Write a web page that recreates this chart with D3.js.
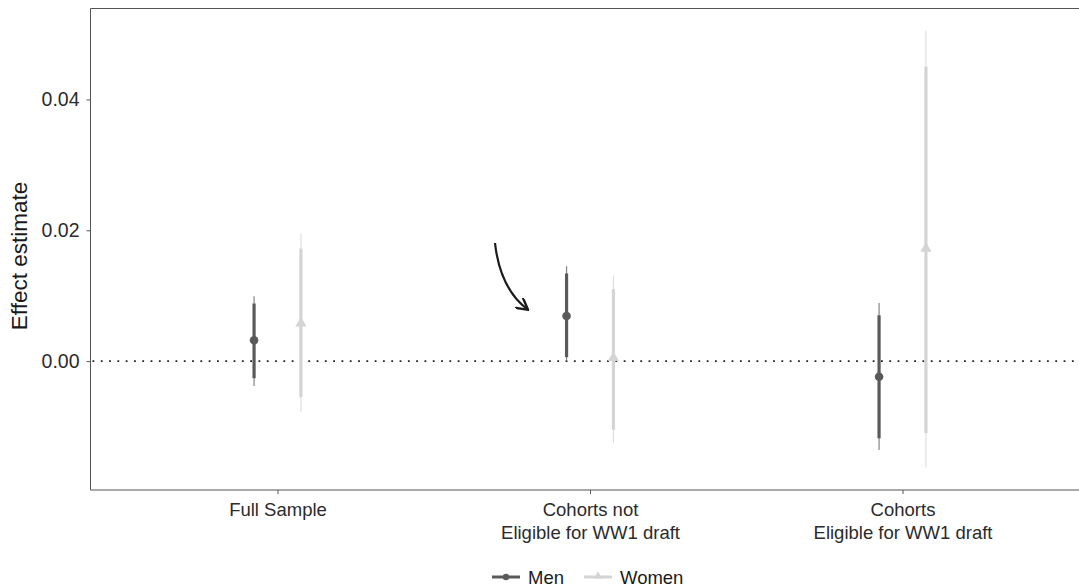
<!DOCTYPE html>
<html>
<head>
<meta charset="utf-8">
<script src="https://cdn.jsdelivr.net/npm/d3@7"></script>
<style>
  body { margin: 0; background: #fff; }
  svg { display: block; font-family: "Liberation Sans", Arial, sans-serif; }
</style>
</head>
<body>
<div id="chart"></div>
<script>
// categories and series
const categories = ["Full Sample", "Cohorts not\nEligible for WW1 draft", "Cohorts\nEligible for WW1 draft"];
const groups = ["Men", "Women"];

// estimates
const menEst    = [0.0032, 0.0069, -0.0024];
const menLo95   = [-0.0038, 0.0002, -0.0136];
const menHi95   = [0.0099, 0.0145, 0.0089];
const menLo90   = [-0.0026, 0.0006, -0.0118];
const menHi90   = [0.0088, 0.0134, 0.0070];

const womenEst  = [0.0058, 0.0005, 0.0172];
const womenLo95 = [-0.0078, -0.0125, -0.0163];
const womenHi95 = [0.0195, 0.0131, 0.0505];
const womenLo90 = [-0.0055, -0.0105, -0.0110];
const womenHi90 = [0.0172, 0.0110, 0.0450];

const yTicks = [0, 0.02, 0.04];

const width = 1079, height = 588;
const margin = { left: 90.5, top: 8.5, bottom: 490 };

const colors = { Men: "#5a5a5a", Women: "#d4d4d4" };

const rows = [];
categories.forEach((c, i) => {
  rows.push({ cat: c, group: "Men", est: menEst[i], lo95: menLo95[i], hi95: menHi95[i], lo90: menLo90[i], hi90: menHi90[i] });
  rows.push({ cat: c, group: "Women", est: womenEst[i], lo95: womenLo95[i], hi95: womenHi95[i], lo90: womenLo90[i], hi90: womenHi90[i] });
});

const svg = d3.select("#chart").append("svg")
  .attr("width", width).attr("height", height);

// discrete x with ggplot-like 0.6 expansion; panel runs off the right edge
const x = d3.scalePoint()
  .domain(categories)
  .range([277.5, 902.5]);
const step = x.step();
const dodge = d3.scalePoint().domain(groups).range([-0.075 * step, 0.075 * step]);

const y = d3.scaleLinear()
  .domain([-0.0197, 0.0539])
  .range([margin.bottom, margin.top]);

// zero reference line
svg.append("line")
  .attr("x1", margin.left + 2).attr("x2", width)
  .attr("y1", y(0)).attr("y2", y(0))
  .attr("stroke", "#222").attr("stroke-width", 1.8)
  .attr("stroke-dasharray", "1.8 6.5");

// error bars
const g = svg.append("g");
const pts = g.selectAll("g.pt").data(rows).enter().append("g")
  .attr("transform", d => `translate(${x(d.cat) + dodge(d.group)},0)`);

pts.append("line")
  .attr("y1", d => y(d.lo95)).attr("y2", d => y(d.hi95))
  .attr("stroke", d => colors[d.group]).attr("stroke-width", 1.2)
  .attr("stroke-opacity", 0.75);

pts.append("line")
  .attr("y1", d => y(d.lo90)).attr("y2", d => y(d.hi90))
  .attr("stroke", d => colors[d.group]).attr("stroke-width", 3.2);

pts.filter(d => d.group === "Men").append("circle")
  .attr("cy", d => y(d.est)).attr("r", 4.3)
  .attr("fill", colors.Men);

pts.filter(d => d.group === "Women").append("path")
  .attr("d", d3.symbol(d3.symbolTriangle, 55))
  .attr("transform", d => `translate(0,${y(d.est)})`)
  .attr("fill", colors.Women);

// axes
const axisColor = "#555";
const yAxis = svg.append("g")
  .attr("transform", `translate(${margin.left},0)`)
  .call(d3.axisLeft(y).tickValues(yTicks).tickFormat(d3.format(".2f")).tickSize(4).tickPadding(7));
yAxis.select(".domain").attr("stroke", axisColor).attr("d", `M0,${margin.top}V${margin.bottom}`);

const xAxis = svg.append("g")
  .attr("transform", `translate(0,${margin.bottom})`)
  .call(d3.axisBottom(x).tickSize(4).tickPadding(9));
xAxis.select(".domain").attr("stroke", axisColor).attr("d", `M${margin.left},0H${width}`);

[yAxis, xAxis].forEach(a => {
  a.selectAll(".tick line").attr("stroke", axisColor);
  a.selectAll(".tick text").attr("fill", "#2b2b2b").style("font-size", "18.5px");
});
yAxis.selectAll(".tick text").style("font-size", "19.5px");

xAxis.selectAll(".tick text").each(function(d) {
  const t = d3.select(this);
  const parts = d.split("\n");
  t.text(null);
  parts.forEach((p, i) => {
    t.append("tspan").attr("x", 0).attr("dy", i === 0 ? "0.71em" : "1.25em").text(p);
  });
});

// top border
svg.append("line")
  .attr("x1", margin.left).attr("x2", width)
  .attr("y1", margin.top).attr("y2", margin.top)
  .attr("stroke", axisColor);

// y title
svg.append("text")
  .attr("transform", `translate(27,256) rotate(-90)`)
  .attr("text-anchor", "middle")
  .attr("fill", "#1a1a1a")
  .style("font-size", "22.5px")
  .text("Effect estimate");

// annotation arrow
svg.append("defs").append("marker")
  .attr("id", "head").attr("viewBox", "0 0 10 10")
  .attr("refX", 8).attr("refY", 5)
  .attr("markerWidth", 6).attr("markerHeight", 6)
  .attr("orient", "auto")
  .append("path").attr("d", "M0,0L9,5L0,10").attr("fill", "none")
  .attr("stroke", "#1a1a1a").attr("stroke-width", 1.8);

svg.append("path")
  .attr("d", "M495,243 Q500,288 527,309")
  .attr("fill", "none").attr("stroke", "#1a1a1a").attr("stroke-width", 2.2)
  .attr("marker-end", "url(#head)");

// legend
const legend = svg.append("g").attr("transform", "translate(492,577)");
const items = legend.selectAll("g").data(groups).enter().append("g")
  .attr("transform", (d, i) => `translate(${i * 92},0)`);
items.append("line").attr("x1", 0).attr("x2", 28)
  .attr("stroke", d => colors[d]).attr("stroke-width", 3);
items.filter(d => d === "Men").append("circle").attr("cx", 14).attr("r", 3.2).attr("fill", colors.Men);
items.filter(d => d === "Women").append("path")
  .attr("d", d3.symbol(d3.symbolTriangle, 30)).attr("transform", "translate(14,-1)")
  .attr("fill", colors.Women);
items.append("text").attr("x", 36).attr("dy", "0.36em")
  .attr("fill", "#1a1a1a").style("font-size", "18.5px").text(d => d);
</script>
</body>
</html>
